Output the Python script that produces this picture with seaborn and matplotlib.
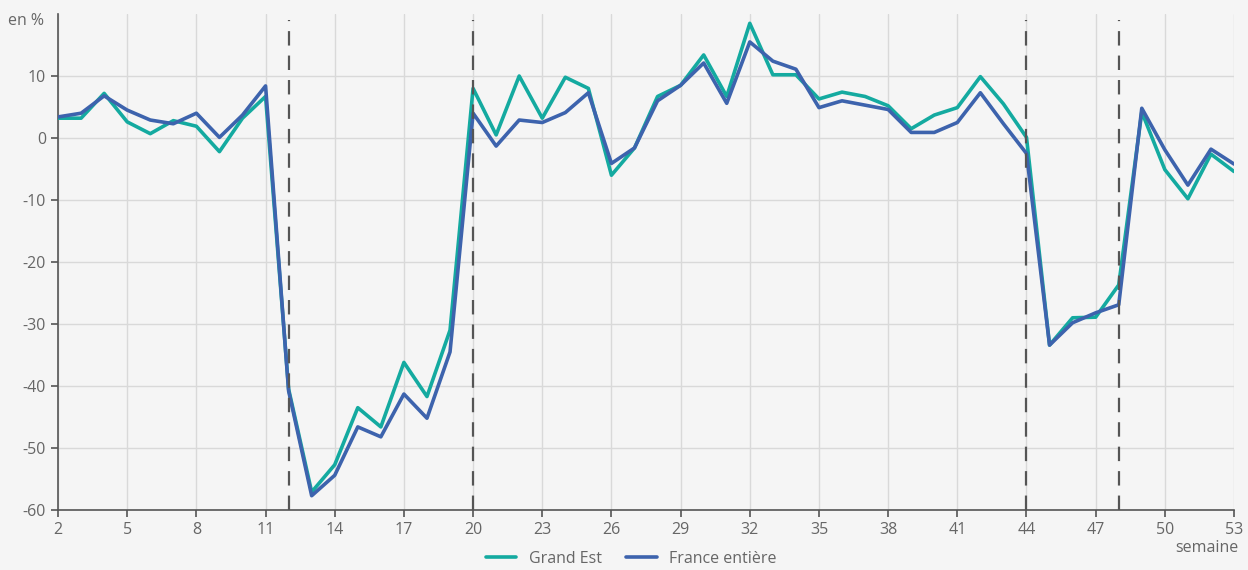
import numpy as np
import pandas as pd
import matplotlib
matplotlib.use("Agg")
import matplotlib.pyplot as plt
import seaborn as sns

# Data (weeks 2..53)
semaines = list(range(2, 54))
grand_est = [3.2, 3.2, 7.2, 2.6, 0.7, 2.8, 1.9, -2.2, 3.2, 6.7,
             -40.5, -57.1, -52.7, -43.5, -46.6, -36.2, -41.7, -31.0,
             8.0, 0.5, 10.0, 3.2, 9.8, 8.0, -6.0, -1.6, 6.7, 8.5,
             13.4, 6.7, 18.5, 10.2, 10.2, 6.3, 7.4, 6.7, 5.2, 1.5,
             3.7, 4.9, 9.9, 5.5, 0.1, -33.4, -29.0, -28.9, -23.7,
             4.2, -5.1, -9.8, -2.6, -5.4]
france = [3.4, 4.0, 6.8, 4.5, 2.9, 2.3, 4.0, 0.1, 3.7, 8.4,
          -40.8, -57.7, -54.4, -46.6, -48.2, -41.3, -45.2, -34.5,
          4.0, -1.3, 2.9, 2.5, 4.1, 7.3, -4.1, -1.6, 6.0, 8.5,
          12.1, 5.6, 15.5, 12.4, 11.1, 4.9, 6.0, 5.3, 4.6, 0.9,
          0.9, 2.5, 7.3, 2.3, -2.5, -33.4, -29.8, -28.2, -26.9,
          4.8, -1.9, -7.6, -1.8, -4.2]
series_names = ["Grand Est", "France entière"]
repere_semaines = [12, 20, 44, 48]

x_ticks = list(range(2, 54, 3))
y_ticks = list(range(-60, 11, 10))

df = pd.DataFrame({
    "semaine": semaines * 2,
    "valeur": grand_est + france,
    "zone": [series_names[0]] * len(semaines) + [series_names[1]] * len(semaines),
})

sns.set_theme(style="white")
plt.rcParams["font.family"] = ["Open Sans", "DejaVu Sans"]
plt.rcParams["axes.unicode_minus"] = False

bg = "#f5f5f5"
txt = "#666666"
fs = 11.5
palette = {"Grand Est": "#14aaa0", "France entière": "#3d63ad"}

fig = plt.figure(figsize=(12.48, 5.70), dpi=100, facecolor=bg)
ax = fig.add_axes([0.0465, 0.1053, 0.9423, 0.8701])
ax.set_facecolor(bg)

sns.lineplot(data=df, x="semaine", y="valeur", hue="zone", palette=palette,
             linewidth=2.6, ax=ax, legend=True, zorder=3)

ax.vlines(repere_semaines, -60, 19, colors="#555555", linewidth=1.6,
          linestyles=(0, (6.5, 4.5)), zorder=4)

ax.set_xlim(2, 53)
ax.set_ylim(-60, 20)
ax.set_xticks(x_ticks)
ax.set_yticks(y_ticks)
ax.grid(True, color="#d9d9d9", linewidth=1.0, zorder=0)
ax.set_axisbelow(True)

for s in ["top", "right"]:
    ax.spines[s].set_visible(False)
for s in ["left", "bottom"]:
    ax.spines[s].set_color("#555555")
    ax.spines[s].set_linewidth(1.2)

ax.tick_params(axis="both", colors="#555555", labelcolor=txt, labelsize=fs,
               length=5, width=1.2, direction="out", bottom=True, left=True)
ax.set_xlabel("")
ax.set_ylabel("")

fig.text(0.035, 0.963, "en %", ha="right", va="center", fontsize=fs, color=txt)
fig.text(0.992, 0.038, "semaine", ha="right", va="center", fontsize=fs, color=txt)

handles, labels = ax.get_legend_handles_labels()
ax.legend(handles, labels, loc="center", bbox_to_anchor=(0.506, 0.02),
          bbox_transform=fig.transFigure, ncol=2, frameon=False,
          fontsize=fs, labelcolor=txt, handlelength=1.9, handletextpad=0.8,
          columnspacing=1.5, borderpad=0.1)

fig.savefig("out.png", dpi=100, facecolor=bg)
